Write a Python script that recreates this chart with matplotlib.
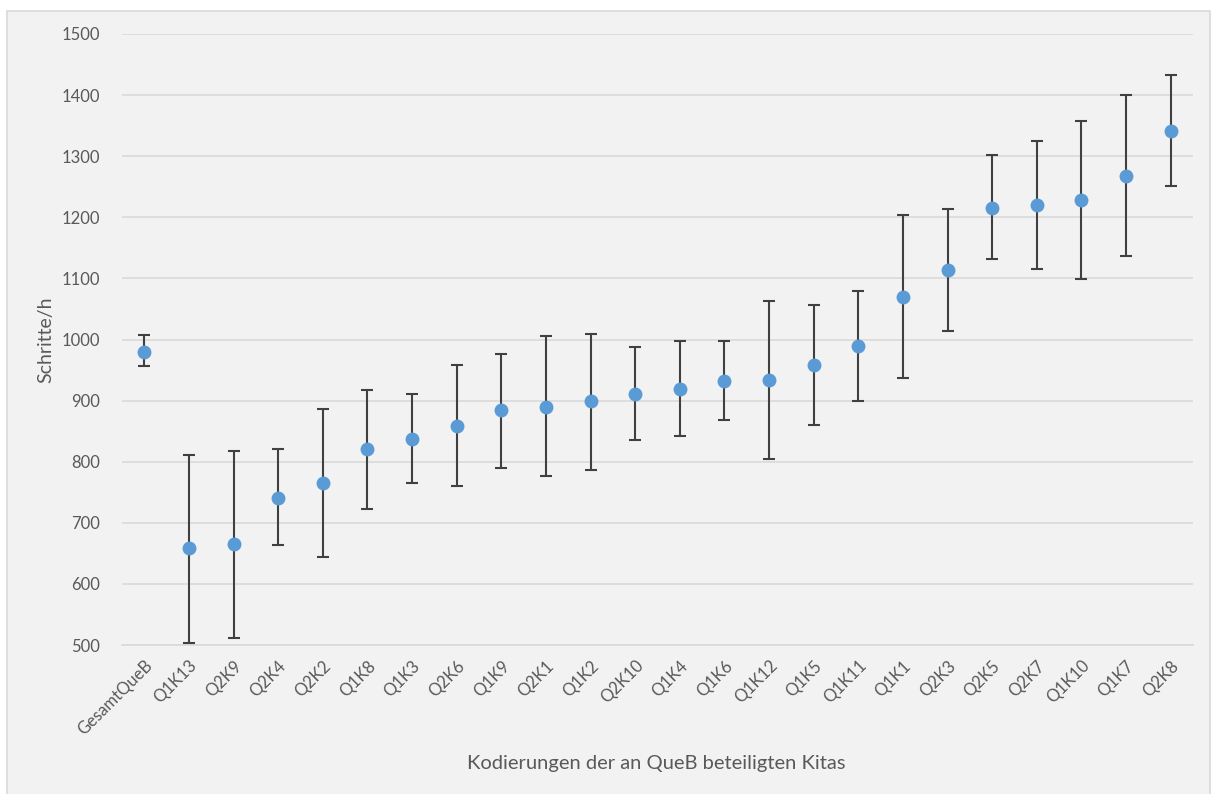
import matplotlib.pyplot as plt
from matplotlib.patches import Rectangle

# Data
kitas = ["GesamtQueB", "Q1K13", "Q2K9", "Q2K4", "Q2K2", "Q1K8", "Q1K3", "Q2K6",
         "Q1K9", "Q2K1", "Q1K2", "Q2K10", "Q1K4", "Q1K6", "Q1K12", "Q1K5",
         "Q1K11", "Q1K1", "Q2K3", "Q2K5", "Q2K7", "Q1K10", "Q1K7", "Q2K8"]
mean_steps = [980, 658, 665, 740, 765, 820, 837, 858, 884, 890, 899, 911,
              919, 932, 934, 958, 990, 1069, 1113, 1216, 1220, 1228, 1268, 1342]
upper = [1007, 811, 818, 820, 887, 918, 910, 958, 977, 1005, 1009, 987,
         997, 998, 1063, 1056, 1080, 1203, 1213, 1302, 1325, 1358, 1400, 1433]
lower = [956, 503, 511, 663, 644, 722, 765, 760, 790, 776, 787, 835,
         842, 868, 805, 860, 900, 937, 1014, 1132, 1115, 1099, 1136, 1252]
yticks = [500, 600, 700, 800, 900, 1000, 1100, 1200, 1300, 1400, 1500]

plt.rcParams['font.family'] = ['Lato', 'DejaVu Sans']
text_col = "#595959"

fig = plt.figure(figsize=(12.12, 7.94), dpi=100)
fig.patch.set_facecolor("white")

# Chart area background with light border
bg = Rectangle((7 / 1212, -0.01), 1203 / 1212, 1 - 11 / 794 + 0.01,
               transform=fig.transFigure, facecolor="#f2f2f2",
               edgecolor="#d9d9d9", linewidth=1.2, zorder=-10)
fig.patches.append(bg)

ax = fig.add_axes([122 / 1212, 1 - 645 / 794, 1071 / 1212, 611 / 794])
ax.set_facecolor("none")

x = list(range(len(kitas)))
yerr = [[m - lo for m, lo in zip(mean_steps, lower)],
        [up - m for m, up in zip(mean_steps, upper)]]
ax.errorbar(x, mean_steps, yerr=yerr, fmt="o", color="#5b9bd5",
            markersize=9, ecolor="#404040", elinewidth=1.5, capsize=4,
            capthick=1.5, zorder=3)

ax.set_xlim(-0.5, len(kitas) - 0.5)
ax.set_ylim(500, 1500)
ax.set_yticks(yticks)
ax.yaxis.grid(True, color="#d9d9d9", linewidth=1.2)
ax.set_axisbelow(True)
for s in ax.spines.values():
    s.set_visible(False)
ax.spines["bottom"].set_visible(True)
ax.spines["bottom"].set_color("#d9d9d9")
ax.spines["bottom"].set_linewidth(1.2)

ax.set_xticks(x)
ax.set_xticklabels(kitas, rotation=45, ha="right", rotation_mode="anchor",
                   fontsize=12, color=text_col)
ax.tick_params(axis="both", length=0, labelsize=12, labelcolor=text_col)
ax.tick_params(axis="x", pad=9)
ax.tick_params(axis="y", pad=16)

ax.set_ylabel("Schritte/h", fontsize=14, color=text_col, labelpad=5)
fig.text(656 / 1212, 1 - 764 / 794,
         "Kodierungen der an QueB beteiligten Kitas",
         fontsize=14.5, color=text_col, ha="center", va="center")

fig.savefig("out.png", dpi=100)
